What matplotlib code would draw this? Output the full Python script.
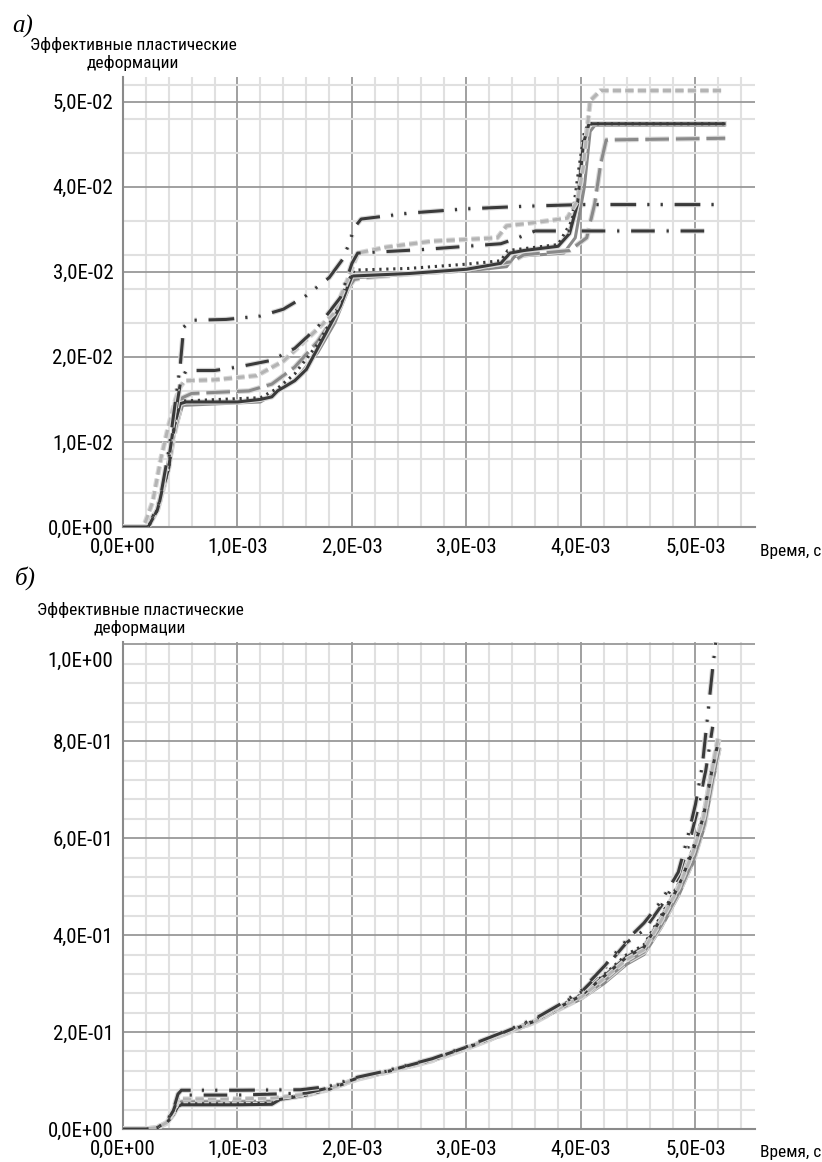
import numpy as np
import matplotlib
matplotlib.use("Agg")
import matplotlib.pyplot as plt
import matplotlib.patheffects as pe
import matplotlib.font_manager as fm
from matplotlib.ticker import MultipleLocator, FuncFormatter
from matplotlib.transforms import ScaledTranslation

# узкий шрифт, если есть
names = {f.name for f in fm.fontManager.ttflist}
narrow = [n for n in ['Liberation Sans Narrow', 'Roboto Condensed', 'Open Sans Condensed',
                      'Noto Sans Condensed', 'DejaVu Sans Condensed'] if n in names]
cond = sorted({f.name for f in fm.fontManager.ttflist
               if f.stretch in ('condensed', 'semi-condensed', 'extra-condensed')})
if narrow or cond:
    plt.rcParams['font.family'] = narrow + cond + ['DejaVu Sans']
    plt.rcParams['font.stretch'] = 'condensed'
    FS, FS_TICK = 12.5, 15
else:
    plt.rcParams['font.family'] = ['Roboto', 'DejaVu Sans']
    FS, FS_TICK = 11.5, 11.5
plt.rcParams['lines.scale_dashes'] = False

# время в мс (на графике переводится в секунды)
# ---- а) ----
ta_dd = [0, 0.22, 0.32, 0.40, 0.46, 0.50, 0.53, 0.60, 0.9, 1.2, 1.4, 1.6, 1.8, 1.92, 1.98, 2.02, 2.08, 2.5, 3.0, 3.5, 4.0, 5.25]
ea_dd = [0, 0, 0.003, 0.009, 0.015, 0.019, 0.0235, 0.0243, 0.0244, 0.0248, 0.0256, 0.0272, 0.0293, 0.0315, 0.0335, 0.0352, 0.0362, 0.0369, 0.0374, 0.0377, 0.0379, 0.0379]

ta_dd1 = [0, 0.22, 0.32, 0.40, 0.46, 0.50, 0.55, 0.8, 1.0, 1.3, 1.5, 1.7, 1.9, 2.0, 2.05, 2.6, 3.3, 3.45, 3.6, 5.15]
ea_dd1 = [0, 0, 0.003, 0.008, 0.0135, 0.0168, 0.0184, 0.0184, 0.0188, 0.0196, 0.021, 0.0235, 0.027, 0.031, 0.0322, 0.0326, 0.0333, 0.0340, 0.0348, 0.0348]

ta_sd = [0, 0.18, 0.26, 0.33, 0.40, 0.46, 0.50, 0.54, 0.8, 1.17, 1.4, 1.6, 1.84, 1.96, 2.05, 2.3, 2.7, 3.27, 3.35, 3.6, 3.88, 3.97, 4.02, 4.08, 4.17, 5.23]
ea_sd = [0, 0, 0.003, 0.008, 0.012, 0.015, 0.0165, 0.0172, 0.0173, 0.0178, 0.0195, 0.022, 0.0251, 0.029, 0.0322, 0.0329, 0.0336, 0.034, 0.0354, 0.0358, 0.0363, 0.0384, 0.0423, 0.0501, 0.0513, 0.0513]

ta_ld = [0, 0.2, 0.3, 0.38, 0.45, 0.52, 0.6, 1.1, 1.3, 1.5, 1.7, 1.85, 1.95, 2.02, 2.1, 3.0, 3.4, 3.5, 3.9, 4.05, 4.12, 4.17, 4.22, 5.26]
ea_ld = [0, 0, 0.002, 0.006, 0.011, 0.0152, 0.0157, 0.0160, 0.0168, 0.0188, 0.0218, 0.0248, 0.0278, 0.0291, 0.0293, 0.0303, 0.0312, 0.0320, 0.0325, 0.034, 0.038, 0.0425, 0.0455, 0.0457]

ta_sol = [0, 0.22, 0.3, 0.4, 0.45, 0.5, 0.55, 1.0, 1.2, 1.3, 1.35, 1.5, 1.6, 1.7, 1.8, 1.9, 1.97, 2.0, 2.5, 3.0, 3.3, 3.38, 3.5, 3.8, 3.9, 3.97, 4.02, 4.07, 5.25]
ea_sol = [0, 0, 0.002, 0.007, 0.012, 0.0145, 0.0147, 0.0147, 0.015, 0.0153, 0.016, 0.0172, 0.0185, 0.021, 0.0235, 0.026, 0.0285, 0.0295, 0.0298, 0.0303, 0.031, 0.0322, 0.0325, 0.033, 0.0345, 0.038, 0.045, 0.0474, 0.0474]

ta_dot = [0, 0.22, 0.3, 0.4, 0.45, 0.5, 1.2, 1.35, 1.5, 1.7, 1.85, 1.95, 2.02, 2.5, 3.0, 3.3, 3.36, 3.8, 3.92, 3.98, 4.03, 4.07, 5.25]
ea_dot = [0, 0, 0.002, 0.007, 0.012, 0.0148, 0.0152, 0.0163, 0.018, 0.0215, 0.025, 0.0285, 0.0302, 0.0304, 0.0309, 0.0313, 0.0325, 0.0332, 0.036, 0.042, 0.0465, 0.0474, 0.0474]

ta_gr = [0, 0.22, 0.3, 0.45, 0.52, 1.2, 1.3, 1.5, 1.7, 1.85, 1.97, 2.03, 3.0, 3.35, 3.42, 3.85, 3.95, 4.03, 4.08, 4.12, 5.25]
ea_gr = [0, 0, 0.002, 0.011, 0.0143, 0.0147, 0.0155, 0.0172, 0.0205, 0.024, 0.028, 0.0293, 0.0301, 0.0306, 0.0318, 0.0322, 0.034, 0.04, 0.0465, 0.0472, 0.0472]

# ---- б) ----
tb_dd = [0, 0.2, 0.3, 0.38, 0.44, 0.48, 0.51, 1.0, 1.55, 1.8, 2.05, 2.3, 2.7, 3.0, 3.3, 3.6, 3.8, 4.0, 4.2, 4.4, 4.55, 4.7, 4.85, 4.93, 5.0, 5.06, 5.11, 5.15, 5.19]
eb_dd = [0, 0, 0.003, 0.015, 0.04, 0.072, 0.08, 0.08, 0.081, 0.088, 0.107, 0.12, 0.145, 0.17, 0.198, 0.228, 0.255, 0.285, 0.335, 0.39, 0.425, 0.47, 0.53, 0.6, 0.67, 0.75, 0.86, 0.95, 1.03]

tb_dd1 = [0, 0.2, 0.3, 0.38, 0.44, 0.48, 0.51, 1.0, 1.6, 1.8, 2.05, 2.3, 2.7, 3.0, 3.3, 3.6, 3.8, 4.0, 4.2, 4.4, 4.55, 4.7, 4.85, 4.94, 5.02, 5.09, 5.15]
eb_dd1 = [0, 0, 0.003, 0.014, 0.038, 0.065, 0.07, 0.07, 0.074, 0.085, 0.105, 0.119, 0.144, 0.169, 0.197, 0.226, 0.253, 0.282, 0.33, 0.385, 0.41, 0.46, 0.52, 0.585, 0.66, 0.74, 0.83]

tb_sd = [0, 0.2, 0.3, 0.38, 0.44, 0.48, 0.51, 1.0, 1.3, 1.4, 1.6, 1.8, 2.05, 2.3, 2.7, 3.0, 3.3, 3.6, 3.8, 4.0, 4.2, 4.4, 4.55, 4.7, 4.85, 4.98, 5.07, 5.14, 5.2]
eb_sd = [0, 0, 0.003, 0.013, 0.035, 0.058, 0.062, 0.062, 0.064, 0.066, 0.072, 0.083, 0.104, 0.118, 0.142, 0.167, 0.194, 0.222, 0.248, 0.272, 0.31, 0.35, 0.37, 0.43, 0.497, 0.572, 0.643, 0.734, 0.81]

tb_ld = [0, 0.2, 0.3, 0.38, 0.44, 0.48, 0.51, 1.0, 1.3, 1.38, 1.6, 1.8, 2.05, 2.3, 2.7, 3.0, 3.3, 3.6, 3.8, 4.0, 4.2, 4.4, 4.55, 4.7, 4.85, 4.99, 5.08, 5.15, 5.21]
eb_ld = [0, 0, 0.003, 0.012, 0.033, 0.052, 0.056, 0.056, 0.057, 0.062, 0.07, 0.082, 0.103, 0.117, 0.141, 0.166, 0.193, 0.221, 0.246, 0.27, 0.305, 0.345, 0.365, 0.42, 0.485, 0.56, 0.63, 0.72, 0.79]

tb_sol = [0, 0.2, 0.3, 0.38, 0.44, 0.48, 0.51, 1.0, 1.3, 1.37, 1.6, 1.8, 2.05, 2.3, 2.7, 3.0, 3.3, 3.6, 3.8, 4.0, 4.2, 4.4, 4.55, 4.7, 4.85, 4.98, 5.07, 5.14, 5.2]
eb_sol = [0, 0, 0.003, 0.012, 0.03, 0.047, 0.05, 0.05, 0.051, 0.061, 0.07, 0.082, 0.104, 0.118, 0.142, 0.167, 0.195, 0.223, 0.25, 0.275, 0.315, 0.355, 0.375, 0.435, 0.5, 0.575, 0.645, 0.735, 0.8]

tb_dot = [0, 0.2, 0.3, 0.38, 0.44, 0.48, 0.51, 1.0, 1.3, 1.37, 1.6, 1.8, 2.05, 2.3, 2.7, 3.0, 3.3, 3.6, 3.8, 4.0, 4.2, 4.4, 4.55, 4.7, 4.85, 4.98, 5.07, 5.14, 5.2]
eb_dot = [0, 0, 0.003, 0.012, 0.031, 0.049, 0.052, 0.052, 0.053, 0.062, 0.071, 0.083, 0.105, 0.119, 0.143, 0.168, 0.196, 0.224, 0.251, 0.277, 0.318, 0.36, 0.38, 0.44, 0.505, 0.58, 0.65, 0.74, 0.8]

tb_gr = [0, 0.2, 0.3, 0.38, 0.44, 0.48, 0.51, 1.0, 1.3, 1.37, 1.6, 1.8, 2.05, 2.3, 2.7, 3.0, 3.3, 3.6, 3.8, 4.0, 4.2, 4.4, 4.55, 4.7, 4.85, 4.99, 5.08, 5.15, 5.21]
eb_gr = [0, 0, 0.003, 0.012, 0.032, 0.051, 0.054, 0.054, 0.055, 0.061, 0.07, 0.081, 0.102, 0.116, 0.14, 0.165, 0.192, 0.22, 0.245, 0.268, 0.3, 0.34, 0.36, 0.415, 0.48, 0.555, 0.625, 0.715, 0.78]

DARK = '#3a3a3a'
MID = '#8a8a8a'
LIGHT = '#b4b4b4'

# стили линий
styles = {
    'gr':  dict(color=MID, ls='-', outline=False),
    'ld':  dict(color=MID, ls=(0, (17, 5)), outline=True),
    'sol': dict(color=DARK, ls='-', outline=True),
    'dot': dict(color=DARK, ls=(0, (1.6, 3.4)), outline=False),
    'sd':  dict(color=LIGHT, ls=(0, (6, 3)), outline=True),
    'dd1': dict(color=DARK, ls=(0, (17, 8.5, 1.6, 8.5)), outline=True),
    'dd':  dict(color=DARK, ls=(0, (18.5, 8, 1.6, 8, 1.6, 8.5)), outline=True),
}

panel_a = {'gr': (ta_gr, ea_gr), 'ld': (ta_ld, ea_ld), 'sol': (ta_sol, ea_sol),
           'dot': (ta_dot, ea_dot), 'sd': (ta_sd, ea_sd), 'dd1': (ta_dd1, ea_dd1),
           'dd': (ta_dd, ea_dd)}
panel_b = {'gr': (tb_gr, eb_gr), 'ld': (tb_ld, eb_ld), 'sol': (tb_sol, eb_sol),
           'dot': (tb_dot, eb_dot), 'sd': (tb_sd, eb_sd), 'dd1': (tb_dd1, eb_dd1),
           'dd': (tb_dd, eb_dd)}


def sci_fmt(v, pos):
    return f"{v:.1E}".replace('.', ',')


def setup_axes(ax, ymax, ymajor, yminor):
    ax.set_xlim(0, 5.52e-3)
    ax.set_ylim(0, ymax)
    ax.xaxis.set_major_locator(MultipleLocator(1e-3))
    ax.xaxis.set_minor_locator(MultipleLocator(2e-4))
    ax.yaxis.set_major_locator(MultipleLocator(ymajor))
    ax.yaxis.set_minor_locator(MultipleLocator(yminor))
    ax.xaxis.set_major_formatter(FuncFormatter(sci_fmt))
    ax.yaxis.set_major_formatter(FuncFormatter(sci_fmt))
    ax.grid(which='minor', color='#e0e0e0', lw=1.5)
    ax.grid(which='major', color='#999999', lw=1.3)
    ax.set_axisbelow(True)
    for s in ('top', 'right'):
        ax.spines[s].set_visible(False)
    for s in ('left', 'bottom'):
        ax.spines[s].set_color('#8a8a8a')
        ax.spines[s].set_linewidth(1.5)
    ax.tick_params(which='both', length=0, labelsize=FS_TICK)
    ax.tick_params(axis='x', pad=8)
    ax.tick_params(axis='y', pad=7)


def draw(ax, panel):
    for key, (t, e) in panel.items():
        st = styles[key]
        effects = [pe.Stroke(linewidth=3.8, foreground='#d8d8d8'), pe.Normal()] if st['outline'] else None
        ax.plot(np.array(t) * 1e-3, e, color=st['color'], ls=st['ls'], lw=2.2,
                path_effects=effects, clip_on=True, zorder=3)


fig = plt.figure(figsize=(8.22, 11.62), dpi=100)
ax1 = fig.add_axes([123 / 822, 1 - 527 / 1162, 632 / 822, 450 / 1162])
ax2 = fig.add_axes([123 / 822, 1 - 1129 / 1162, 632 / 822, 487 / 1162])

setup_axes(ax1, 0.0529, 0.01, 0.004)
setup_axes(ax2, 1.005, 0.2, 0.04)
draw(ax1, panel_a)
draw(ax2, panel_b)

# верхняя метка на б) сдвинута вниз
for lab in ax2.get_yticklabels():
    if lab.get_text().startswith('1,0E+00'):
        lab.set_transform(lab.get_transform() + ScaledTranslation(0, -11 / 72, fig.dpi_scale_trans))

ylabel = 'Эффективные пластические\nдеформации'
fig.text(133 / 822, 1 - 54 / 1162, ylabel, ha='center', va='center', fontsize=FS, linespacing=1.15)
fig.text(140 / 822, 1 - 619 / 1162, ylabel, ha='center', va='center', fontsize=FS, linespacing=1.15)
fig.text(821 / 822, 1 - 551 / 1162, 'Время, с', ha='right', va='center', fontsize=FS)
fig.text(821 / 822, 1 - 1152 / 1162, 'Время, с', ha='right', va='center', fontsize=FS)
fig.text(12 / 822, 1 - 26 / 1162, 'а)', family='Liberation Serif', style='italic', fontsize=18, va='center')
fig.text(15 / 822, 1 - 578 / 1162, 'б)', family='Liberation Serif', style='italic', fontsize=18, va='center')

fig.savefig('out.png', dpi=100)
